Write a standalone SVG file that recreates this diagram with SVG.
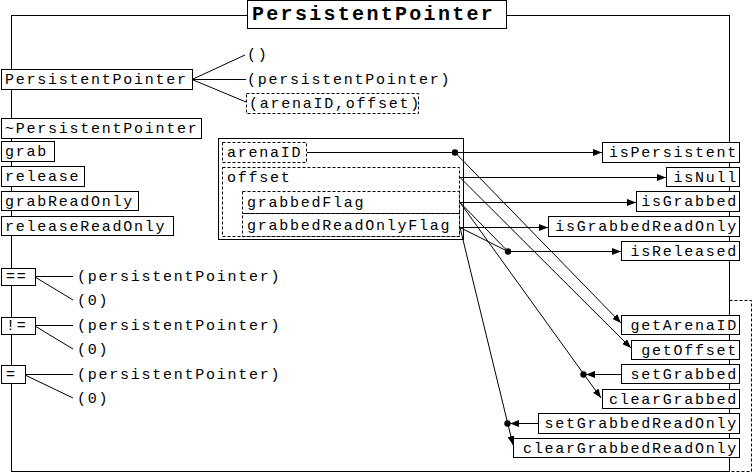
<svg xmlns="http://www.w3.org/2000/svg" width="754" height="473" viewBox="0 0 754 473">
<style>
.t{font-family:"Liberation Mono","DejaVu Sans Mono",monospace;font-size:15px;letter-spacing:1.75px;fill:#000}
.r{text-anchor:end}
.title{font-family:"Liberation Mono","DejaVu Sans Mono",monospace;font-size:20px;font-weight:bold;letter-spacing:2.3px;fill:#000}
.b{fill:#fff;stroke:#000;stroke-width:1}
.d{fill:none;stroke:#000;stroke-width:1;stroke-dasharray:3,2}
.dw{fill:#fff;stroke:#000;stroke-width:1;stroke-dasharray:3,2}
.l{stroke:#000;stroke-width:1;fill:none}
.dot{fill:#000}
</style>
<defs>
<marker id="ah" markerUnits="userSpaceOnUse" markerWidth="9" markerHeight="7" refX="9" refY="3.5" orient="auto">
<path d="M0,0 L9,3.5 L0,7 z" fill="#000"/>
</marker>
</defs>
<rect x="0" y="0" width="754" height="473" fill="#fff"/>
<g id="frame">
<rect class="l" x="11.5" y="15.5" width="718" height="456"/>
<rect class="d" x="729.5" y="300.5" width="22" height="171"/>
</g>
<g id="title">
<rect class="b" x="247.5" y="0.5" width="259" height="28"/>
<text class="title" x="252" y="20">PersistentPointer</text>
</g>
<g id="n-ctor"><rect class="b" x="1.5" y="69.5" width="191" height="20"/><text class="t" x="5" y="84">PersistentPointer</text></g>
<g id="n-ctor-a1"><text class="t" x="247" y="59">()</text></g>
<g id="n-ctor-a2"><text class="t" x="247" y="84">(persistentPointer)</text></g>
<g id="n-ctor-a3"><rect class="dw" x="246.5" y="93.5" width="172" height="20"/><text class="t" x="249" y="108">(arenaID,offset)</text></g>
<g id="n-dtor"><rect class="b" x="1.5" y="118.5" width="200" height="20"/><text class="t" x="5" y="133">~PersistentPointer</text></g>
<g id="n-grab"><rect class="b" x="1.5" y="141.5" width="53" height="20"/><text class="t" x="5" y="156">grab</text></g>
<g id="n-release"><rect class="b" x="1.5" y="166.5" width="83" height="20"/><text class="t" x="5" y="181">release</text></g>
<g id="n-grabRO"><rect class="b" x="1.5" y="191.5" width="137" height="19"/><text class="t" x="5" y="206">grabReadOnly</text></g>
<g id="n-releaseRO"><rect class="b" x="1.5" y="216.5" width="172" height="19"/><text class="t" x="5" y="231">releaseReadOnly</text></g>
<g id="n-eq"><rect class="b" x="1.5" y="268.5" width="34" height="17"/><text class="t" x="6" y="281">==</text></g>
<g id="n-eq-a1"><text class="t" x="77" y="281">(persistentPointer)</text></g>
<g id="n-eq-a2"><text class="t" x="77" y="305">(0)</text></g>
<g id="n-ne"><rect class="b" x="1.5" y="317.5" width="34" height="17"/><text class="t" x="6" y="330">!=</text></g>
<g id="n-ne-a1"><text class="t" x="77" y="330">(persistentPointer)</text></g>
<g id="n-ne-a2"><text class="t" x="77" y="354">(0)</text></g>
<g id="n-as"><rect class="b" x="1.5" y="365.5" width="24" height="18"/><text class="t" x="6" y="379">=</text></g>
<g id="n-as-a1"><text class="t" x="77" y="379">(persistentPointer)</text></g>
<g id="n-as-a2"><text class="t" x="77" y="403">(0)</text></g>
<g id="n-fields">
<rect class="b" x="218.5" y="138.5" width="245" height="101"/>
<g id="n-arenaID"><rect class="d" x="222.5" y="142.5" width="84" height="20"/><text class="t" x="227" y="157">arenaID</text></g>
<g id="n-offset"><rect class="d" x="222.5" y="167.5" width="237" height="69"/><text class="t" x="227" y="182">offset</text></g>
<g id="n-grabbedFlag"><rect class="d" x="242.5" y="191.5" width="217" height="22"/><text class="t" x="247" y="207">grabbedFlag</text></g>
<g id="n-grabbedROFlag"><rect class="d" x="242.5" y="213.5" width="217" height="23"/><text class="t" x="247" y="230">grabbedReadOnlyFlag</text></g>
</g>
<g id="n-isPersistent"><rect class="b" x="602.5" y="142.5" width="137" height="20"/><text class="t r" x="738" y="157">isPersistent</text></g>
<g id="n-isNull"><rect class="b" x="666.5" y="167.5" width="73" height="19"/><text class="t r" x="738" y="182">isNull</text></g>
<g id="n-isGrabbed"><rect class="b" x="636.5" y="191.5" width="103" height="20"/><text class="t r" x="738" y="206">isGrabbed</text></g>
<g id="n-isGrabbedRO"><rect class="b" x="548.5" y="216.5" width="191" height="20"/><text class="t r" x="738" y="231">isGrabbedReadOnly</text></g>
<g id="n-isReleased"><rect class="b" x="621.5" y="241.5" width="118" height="19"/><text class="t r" x="738" y="256">isReleased</text></g>
<g id="n-getArenaID"><rect class="b" x="621.5" y="315.5" width="118" height="19"/><text class="t r" x="738" y="330">getArenaID</text></g>
<g id="n-getOffset"><rect class="b" x="631.5" y="340.5" width="108" height="19"/><text class="t r" x="738" y="355">getOffset</text></g>
<g id="n-setGrabbed"><rect class="b" x="621.5" y="364.5" width="118" height="19"/><text class="t r" x="738" y="379">setGrabbed</text></g>
<g id="n-clearGrabbed"><rect class="b" x="602.5" y="389.5" width="137" height="19"/><text class="t r" x="738" y="404">clearGrabbed</text></g>
<g id="n-setGrabbedRO"><rect class="b" x="538.5" y="413.5" width="201" height="20"/><text class="t r" x="738" y="428">setGrabbedReadOnly</text></g>
<g id="n-clearGrabbedRO"><rect class="b" x="513.5" y="438.5" width="226" height="19"/><text class="t r" x="738" y="453">clearGrabbedReadOnly</text></g>
<g id="connectors">
<line class="l" x1="192" y1="79.5" x2="245" y2="55"/>
<line class="l" x1="192" y1="79.5" x2="246" y2="79.5"/>
<line class="l" x1="192" y1="79.5" x2="246" y2="102"/>
<line class="l" x1="35" y1="276.5" x2="73" y2="276.5"/>
<line class="l" x1="35" y1="277" x2="73" y2="300"/>
<line class="l" x1="35" y1="325.5" x2="73" y2="325.5"/>
<line class="l" x1="35" y1="326" x2="73" y2="349"/>
<line class="l" x1="25" y1="374.5" x2="73" y2="374.5"/>
<line class="l" x1="25" y1="375" x2="73" y2="398"/>
<line class="l" x1="307" y1="152.5" x2="602" y2="152.5" marker-end="url(#ah)"/>
<circle class="dot" cx="455" cy="152.5" r="3.2"/>
<line class="l" x1="455" y1="152.5" x2="621" y2="323" marker-end="url(#ah)"/>
<line class="l" x1="460" y1="177.5" x2="666" y2="177.5" marker-end="url(#ah)"/>
<line class="l" x1="460" y1="177.5" x2="631" y2="348" marker-end="url(#ah)"/>
<line class="l" x1="460" y1="202.5" x2="636" y2="202.5" marker-end="url(#ah)"/>
<line class="l" x1="460" y1="202.5" x2="508" y2="251.5"/>
<line class="l" x1="460" y1="202.5" x2="601" y2="398" marker-end="url(#ah)"/>
<line class="l" x1="460" y1="227.5" x2="548" y2="227.5" marker-end="url(#ah)"/>
<line class="l" x1="460" y1="227.5" x2="508" y2="251.5"/>
<line class="l" x1="460" y1="227.5" x2="513" y2="445" marker-end="url(#ah)"/>
<circle class="dot" cx="508" cy="251.5" r="3.2"/>
<line class="l" x1="508" y1="251.5" x2="621" y2="251.5" marker-end="url(#ah)"/>
<circle class="dot" cx="583.5" cy="374.5" r="3.2"/>
<line class="l" x1="621" y1="374.5" x2="586" y2="374.5" marker-end="url(#ah)"/>
<circle class="dot" cx="507.5" cy="423.5" r="3.2"/>
<line class="l" x1="538" y1="423.5" x2="510" y2="423.5" marker-end="url(#ah)"/>
</g>
</svg>
